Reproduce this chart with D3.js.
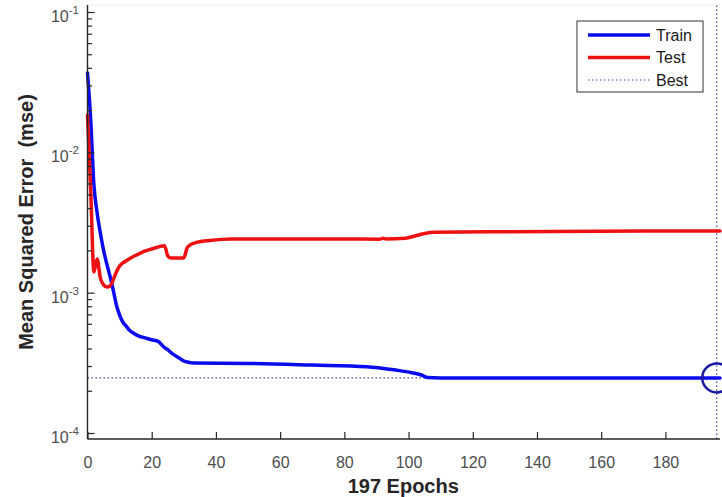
<!DOCTYPE html>
<html>
<head>
<meta charset="utf-8">
<script src="https://cdn.jsdelivr.net/npm/d3@7"></script>
<style>
  html, body { margin: 0; padding: 0; background: #fff; }
  svg { display: block; font-family: "Liberation Sans", Arial, Helvetica, sans-serif; }
</style>
</head>
<body>
<svg id="chart" width="722" height="497"></svg>
<script>
// Training record: epoch breakpoints and mean squared error per series
const trainEpochs = [0, 1, 2, 3, 4, 5, 6, 7, 8, 9, 10, 11, 12, 13, 14, 16, 18, 20, 22, 23, 24, 25, 26, 27, 28, 29, 30, 31, 33, 50, 70, 87, 91, 96, 101, 104, 106, 110, 197];
const trainMSE = [0.0368, 0.0170, 0.00586, 0.00370, 0.002665, 0.002013, 0.001602, 0.001315, 0.001045, 0.000817, 0.000693, 0.000618, 0.000579, 0.000542, 0.000520, 0.000491, 0.000476, 0.000462, 0.000450, 0.000428, 0.000406, 0.000392, 0.000374, 0.000360, 0.000348, 0.000337, 0.000326, 0.000321, 0.000315, 0.000313, 0.000305, 0.000297, 0.000291, 0.000281, 0.000269, 0.000259, 0.0002486, 0.000247, 0.000247];

const testEpochs = [0, 1, 2, 3, 4, 5, 6, 7, 8, 9, 10, 11, 12, 14, 16, 18, 20, 22, 24, 25, 26, 30, 31, 32, 34, 38, 45, 60, 80, 91, 92, 93, 99, 102, 105, 108, 130, 197];
const testMSE = [0.01848, 0.00540, 0.001405, 0.001738, 0.001273, 0.001135, 0.001098, 0.001116, 0.001232, 0.001405, 0.001550, 0.001628, 0.001682, 0.001797, 0.001888, 0.001983, 0.002048, 0.002117, 0.002160, 0.001827, 0.001767, 0.001767, 0.002082, 0.002188, 0.002280, 0.002355, 0.002414, 0.002414, 0.002414, 0.002404, 0.002440, 0.002414, 0.002442, 0.002535, 0.002641, 0.002694, 0.002721, 0.002753];

const totalEpochs = 197;
const bestEpoch = 196;
const bestMSE = 0.000247;

const xTicks = [0, 20, 40, 60, 80, 100, 120, 140, 160, 180];
const yExponents = [-4, -3, -2, -1];
const minorMultipliers = [2, 3, 4, 5, 6, 7, 8, 9];

const legendItems = [
  { label: "Train", color: "#0b0bef", dash: null, width: 3.5 },
  { label: "Test", color: "#ee1111", dash: null, width: 3.5 },
  { label: "Best", color: "#33338f", dash: "1.4,2.6", width: 1.1 }
];

const svg = d3.select("#chart");

const plot = { left: 87.5, right: 720, top: 5, bottom: 439 };

const x = d3.scaleLinear().domain([0, totalEpochs]).range([plot.left, plot.right]);
const y = d3.scaleLog()
  .domain([Math.pow(10, -4.0428), Math.pow(10, -0.9501)])
  .range([plot.bottom, plot.top]);

// faint top edge of the axes box
svg.append("line")
  .attr("x1", plot.left).attr("x2", plot.right)
  .attr("y1", plot.top).attr("y2", plot.top)
  .attr("stroke", "#ececec").attr("stroke-width", 1);

// best-epoch guides
const bestColor = "#33338f";
svg.append("line")
  .attr("x1", plot.left).attr("x2", x(bestEpoch))
  .attr("y1", y(bestMSE)).attr("y2", y(bestMSE))
  .attr("stroke", bestColor).attr("stroke-width", 1.1)
  .attr("stroke-dasharray", "1.4,2.6");
svg.append("line")
  .attr("x1", x(bestEpoch)).attr("x2", x(bestEpoch))
  .attr("y1", plot.bottom).attr("y2", plot.top)
  .attr("stroke", bestColor).attr("stroke-width", 1.1)
  .attr("stroke-dasharray", "1.4,2.6");

// performance curves
const line = d3.line().x(d => x(d[0])).y(d => y(d[1])).curve(d3.curveMonotoneX);
const trainPts = trainEpochs.map((e, i) => [e, trainMSE[i]]);
const testPts = testEpochs.map((e, i) => [e, testMSE[i]]);

svg.append("path").datum(trainPts)
  .attr("d", line).attr("fill", "none")
  .attr("stroke", legendItems[0].color).attr("stroke-width", 3.5)
  .attr("stroke-linejoin", "round").attr("stroke-linecap", "round");
svg.append("path").datum(testPts)
  .attr("d", line).attr("fill", "none")
  .attr("stroke", legendItems[1].color).attr("stroke-width", 3.5)
  .attr("stroke-linejoin", "round").attr("stroke-linecap", "round");

// best marker
svg.append("circle")
  .attr("cx", x(bestEpoch)).attr("cy", y(bestMSE)).attr("r", 14.5)
  .attr("fill", "none").attr("stroke", "#1a1aa0").attr("stroke-width", 2.5);

// x axis
const axisColor = "#262626";
const xAxis = d3.axisBottom(x)
  .tickValues(xTicks)
  .tickFormat(d3.format("d"))
  .tickSizeInner(-7).tickSizeOuter(0).tickPadding(18);
const gx = svg.append("g").attr("transform", `translate(0,${plot.bottom})`).call(xAxis);
gx.select(".domain").remove();
gx.selectAll(".tick line").attr("stroke", axisColor).attr("stroke-width", 1.2);
gx.selectAll(".tick text")
  .attr("fill", "#4d4d4d").attr("font-size", 16)
  .attr("font-family", "'Liberation Sans', Arial, sans-serif");

// y axis: major and minor ticks drawn inward
const majorVals = yExponents.map(p => Math.pow(10, p));
const minorVals = [];
yExponents.slice(0, 3).forEach(p => minorMultipliers.forEach(m => minorVals.push(m * Math.pow(10, p))));

const gyMinor = svg.append("g").attr("transform", `translate(${plot.left},0)`)
  .call(d3.axisLeft(y).tickValues(minorVals).tickFormat("").tickSizeInner(-4.5).tickSizeOuter(0));
gyMinor.select(".domain").remove();
gyMinor.selectAll(".tick line").attr("stroke", axisColor).attr("stroke-width", 1.2);

const gyMajor = svg.append("g").attr("transform", `translate(${plot.left},0)`)
  .call(d3.axisLeft(y).tickValues(majorVals).tickFormat("").tickSizeInner(-7).tickSizeOuter(0));
gyMajor.select(".domain").remove();
gyMajor.selectAll(".tick line").attr("stroke", axisColor).attr("stroke-width", 1.2);

// power-of-ten labels
const yLab = svg.append("g");
yExponents.forEach(p => {
  const t = yLab.append("text")
    .attr("x", 79).attr("y", y(Math.pow(10, p)) + 10)
    .attr("text-anchor", "end")
    .attr("fill", "#4d4d4d").attr("font-size", 16);
  t.append("tspan").text("10");
  t.append("tspan").attr("dy", -8).attr("font-size", 11.5).text("-" + Math.abs(p));
});

// axis lines
svg.append("line")
  .attr("x1", plot.left).attr("x2", plot.left)
  .attr("y1", plot.top).attr("y2", plot.bottom)
  .attr("stroke", axisColor).attr("stroke-width", 1.4);
svg.append("line")
  .attr("x1", plot.left).attr("x2", plot.right)
  .attr("y1", plot.bottom).attr("y2", plot.bottom)
  .attr("stroke", axisColor).attr("stroke-width", 1.4);

// axis titles
svg.append("text")
  .attr("x", (plot.left + plot.right) / 2 - 0.5).attr("y", 493)
  .attr("text-anchor", "middle")
  .attr("font-weight", "bold").attr("font-size", 20).attr("fill", "#262626")
  .text(totalEpochs + " Epochs");

svg.append("text")
  .attr("transform", "translate(26,222) rotate(-90)")
  .attr("text-anchor", "middle").attr("dy", "0.35em")
  .attr("font-weight", "bold").attr("font-size", 20).attr("fill", "#262626")
  .style("white-space", "pre")
  .text("Mean Squared Error  (mse)");

// legend
const lg = svg.append("g").attr("transform", "translate(577,21)");
lg.append("rect")
  .attr("width", 126).attr("height", 71)
  .attr("fill", "#fff").attr("stroke", "#333").attr("stroke-width", 1);
legendItems.forEach((it, i) => {
  const cy = 14 + i * 22.5;
  lg.append("line")
    .attr("x1", 11).attr("x2", 73).attr("y1", cy).attr("y2", cy)
    .attr("stroke", it.color).attr("stroke-width", it.width)
    .attr("stroke-dasharray", it.dash);
  lg.append("text")
    .attr("x", 79).attr("y", cy).attr("dy", "0.36em")
    .attr("font-size", 16).attr("fill", "#1a1a1a")
    .text(it.label);
});
</script>
</body>
</html>
